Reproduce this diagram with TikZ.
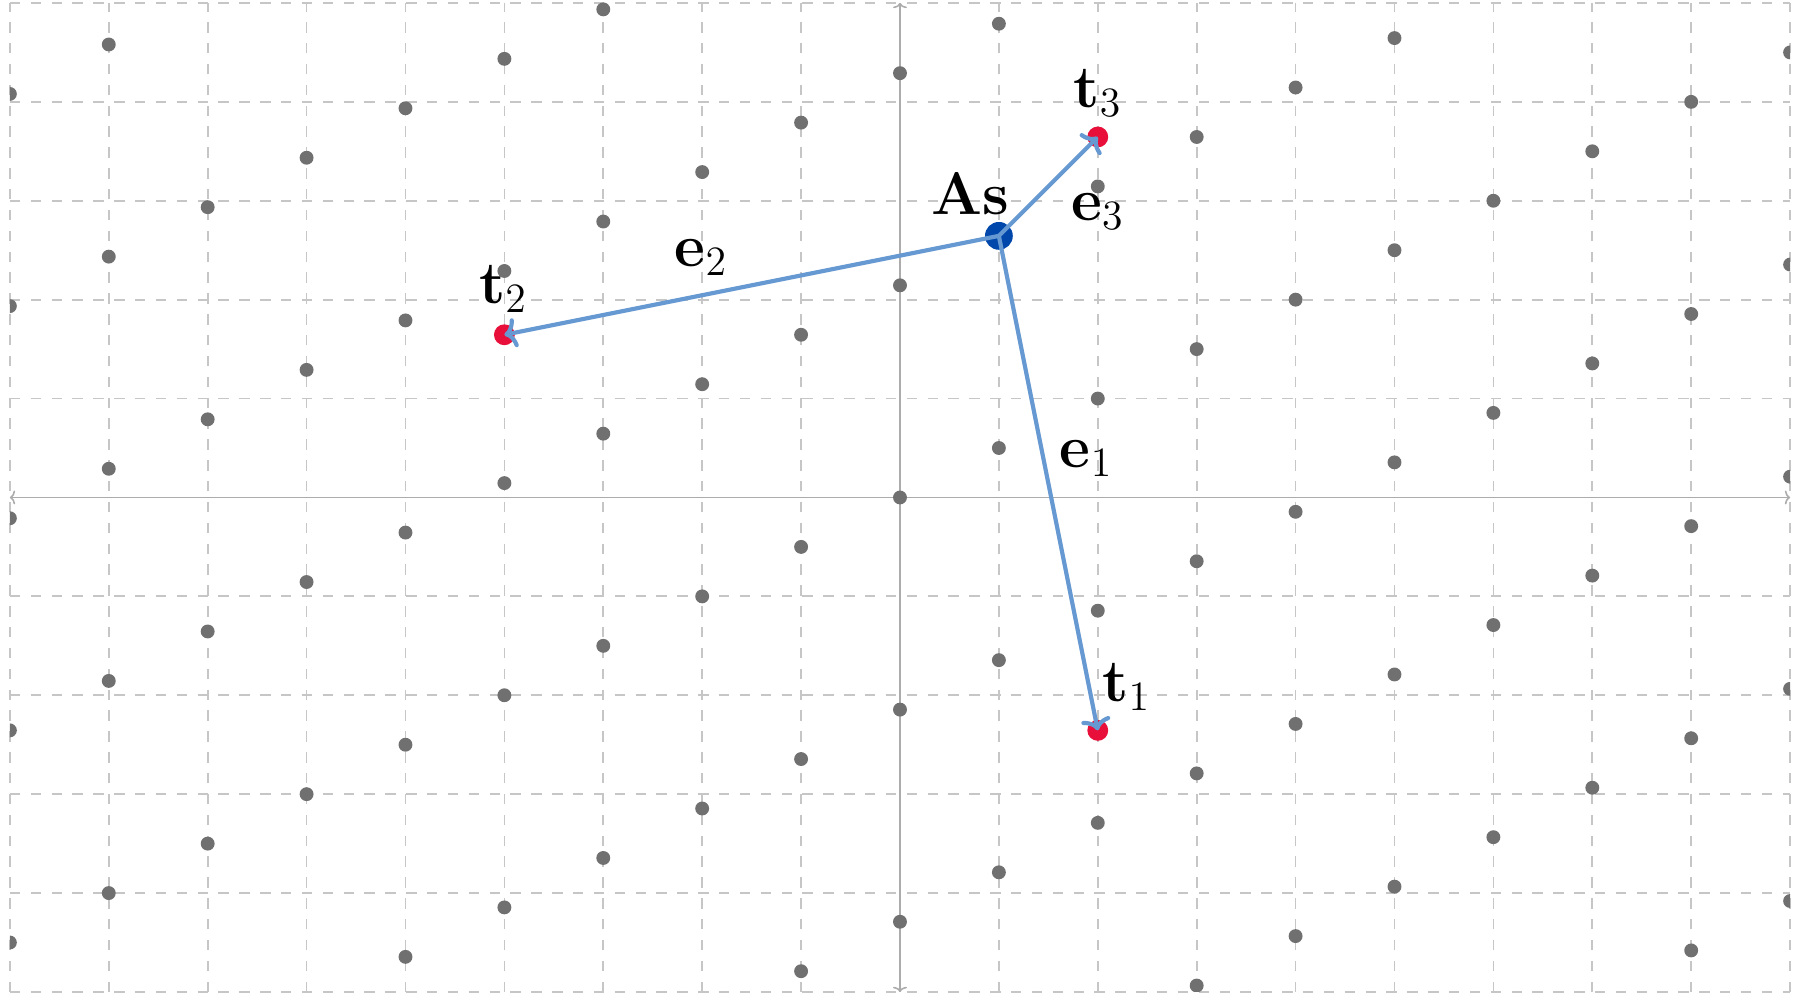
\documentclass[tikz,border=0pt]{standalone}
\usepackage{xcolor}
\usepackage{tikz}
\usetikzlibrary{arrows.meta}
\definecolor{vecblue}{RGB}{102,153,210}
\definecolor{asblue}{RGB}{0,71,171}
\definecolor{tred}{RGB}{232,16,58}
\definecolor{latgray}{RGB}{112,112,112}

\begin{document}
\begin{tikzpicture}[x=1cm, y=1cm,
  gridline/.style={draw=gray!45, dashed, line width=0.5pt},
  axis/.style={draw=gray!65, line width=0.45pt, {To[length=1.5pt, width=4pt]}-{To[length=1.5pt, width=4pt]}},
  latdot/.style={fill=latgray},
  tpt/.style={circle, fill=tred, inner sep=0pt, minimum size=6pt},
  atom/.style={circle, fill=asblue, inner sep=0pt, minimum size=8pt},
  vec/.style={draw=vecblue, line width=1.2pt, -{To[length=3.5pt, width=8.5pt]}},
  lbl/.style={anchor=base, inner sep=0pt, font=\fontsize{16.5}{19}\selectfont}
]
\useasboundingbox (-9.1,-5.02) rectangle (9.1,5.03);
\draw[gridline] (-9,-5) grid (9,5);
\draw[axis] (-9,0) -- (9,0);
\draw[axis] (0,-5) -- (0,5);
% lattice sites
\begin{scope}
\clip (-9,-5) rectangle (9,5);
\foreach \i in {-9,...,9}
  \foreach \j in {-7,...,7}
    \fill[latdot] (\i,{0.5*\i+2.145*\j}) circle (2pt);
\end{scope}
\node[atom] (As) at (1,2.645) {};
\node[tpt] (t1) at (2,-2.355) {};
\node[tpt] (t2) at (-4,1.645) {};
\node[tpt] (t3) at (2,3.645) {};
\draw[vec] (As.center) -- (t1.center);
\draw[vec] (As.center) -- (t2.center);
\draw[vec] (As.center) -- (t3.center);
% labels
\node[lbl] (lAs) at (0.71,2.86) {$\mathbf{As}$};
\node[lbl] (lt1) at (2.29,-2.065) {$\mathbf{t}_1$};
\node[lbl] (lt2) at (-4.01,1.96) {$\mathbf{t}_2$};
\node[lbl] (lt3) at (2.0,3.94) {$\mathbf{t}_3$};
\node[lbl] (le1) at (1.885,0.308) {$\mathbf{e}_1$};
\node[lbl] (le2) at (-2.01,2.34) {$\mathbf{e}_2$};
\node[lbl] (le3) at (2.0,2.805) {$\mathbf{e}_3$};
\end{tikzpicture}
\end{document}
